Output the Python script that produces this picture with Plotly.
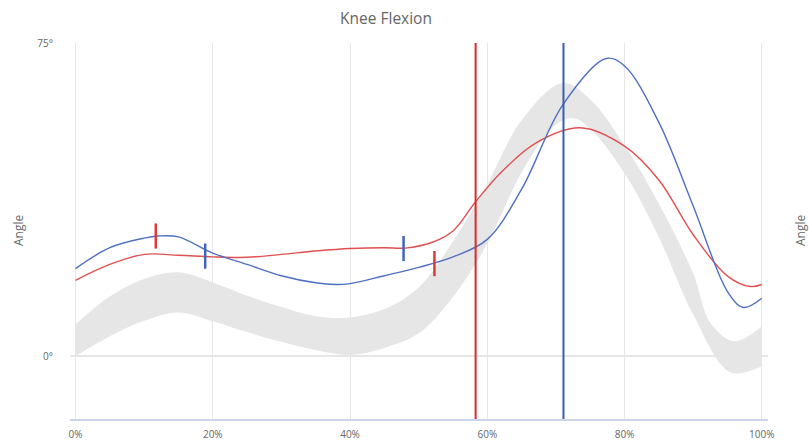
import plotly.graph_objects as go

# ---- data (percent of gait cycle vs knee angle, degrees) ----
blue_x = [0, 5, 10, 12, 15, 20, 25, 30, 35, 38, 40, 45, 50, 55, 60, 65, 71, 77.3, 80, 85, 90, 95, 97.3, 100]
blue_y = [21, 26, 28.3, 28.8, 28.6, 24.7, 22, 19.3, 17.6, 17.2, 17.4, 19.3, 21.3, 23.8, 28, 40, 60.2, 71.3, 69.5, 56, 36, 15.5, 11.7, 13.9]

red_x = [0, 5, 10, 15, 20, 25, 30, 35, 40, 45, 48, 52, 55, 58.3, 62, 67, 73.5, 80, 85, 90, 95, 98.3, 100]
red_y = [18.2, 22, 24.4, 24.2, 23.8, 23.7, 24.4, 25.2, 25.8, 26, 25.9, 27.3, 30, 37, 44, 51, 54.7, 50.3, 42.2, 29.1, 19.2, 16.7, 17.2]

band_upper_x = [0, 5, 10, 15, 20, 25, 30, 35, 40, 45, 50, 55, 60, 65, 71, 75, 80, 85, 90, 92.5, 96, 100]
band_upper_y = [7.6, 14.3, 18.5, 20.1, 17.7, 14.5, 11.8, 9.6, 9.3, 11.3, 16.5, 27.5, 41.2, 56.5, 65.4, 61.5, 50.5, 36.5, 19.8, 8, 3.6, 7.2]

band_lower_x = [0, 5, 10, 15, 20, 25, 30, 35, 40, 45, 50, 55, 60, 65, 70, 72.5, 75, 80, 85, 90, 95.4, 100]
band_lower_y = [0, 4.8, 8.5, 10.5, 8.4, 5.8, 3.5, 1.5, 0.3, 2, 5.5, 14.2, 27, 44, 55.5, 57, 54.5, 43.8, 28.5, 10, -3.8, -2.4]

# event markers: red events on blue curve, blue events on red curve
red_event_x = [11.7, 52.3]
red_event_y = [28.8, 22.2]
blue_event_x = [18.9, 47.8]
blue_event_y = [24.0, 25.8]

# toe-off vertical lines
red_toeoff = 58.3
blue_toeoff = 71.1

x_ticks = [0, 20, 40, 60, 80, 100]
x_tick_text = ["0%", "20%", "40%", "60%", "80%", "100%"]
y_ticks = [0, 75]
y_tick_text = ["0°", "75°"]

RED = "#dc3a3a"
BLUE = "#4466b8"
GREY = "#666666"

fig = go.Figure()

fig.add_trace(go.Scatter(x=band_lower_x, y=band_lower_y, mode="lines",
                         line=dict(width=0, shape="spline", smoothing=1.0, color="#e6e6e6"),
                         hoverinfo="skip", showlegend=False))
fig.add_trace(go.Scatter(x=band_upper_x, y=band_upper_y, mode="lines", fill="tonexty",
                         fillcolor="#e6e6e6",
                         line=dict(width=0, shape="spline", smoothing=1.0, color="#e6e6e6"),
                         hoverinfo="skip", showlegend=False))

fig.add_trace(go.Scatter(x=red_x, y=red_y, mode="lines",
                         line=dict(color="#e05050", width=1.4, shape="spline", smoothing=1.0),
                         showlegend=False))
fig.add_trace(go.Scatter(x=blue_x, y=blue_y, mode="lines",
                         line=dict(color="#4f70c0", width=1.4, shape="spline", smoothing=1.0),
                         showlegend=False))

fig.add_trace(go.Scatter(x=red_event_x, y=red_event_y, mode="markers",
                         marker=dict(symbol="line-ns", size=18, line=dict(width=2.5, color=RED)),
                         showlegend=False))
fig.add_trace(go.Scatter(x=blue_event_x, y=blue_event_y, mode="markers",
                         marker=dict(symbol="line-ns", size=18, line=dict(width=2.5, color=BLUE)),
                         showlegend=False))

fig.add_shape(type="line", xref="x", yref="paper", x0=red_toeoff, x1=red_toeoff, y0=0, y1=1,
              line=dict(color="#d92b2b", width=2))
fig.add_shape(type="line", xref="x", yref="paper", x0=blue_toeoff, x1=blue_toeoff, y0=0, y1=1,
              line=dict(color="#3a5dad", width=2))

fig.add_annotation(text="Angle", xref="paper", yref="paper", x=0, y=0.5, xshift=-52,
                   showarrow=False, textangle=-90, font=dict(size=12, color=GREY),
                   xanchor="center", yanchor="middle")
fig.add_annotation(text="Angle", xref="paper", yref="paper", x=1, y=0.5, xshift=32,
                   showarrow=False, textangle=-90, font=dict(size=12, color=GREY),
                   xanchor="center", yanchor="middle")

fig.update_layout(
    width=809, height=443,
    margin=dict(l=70, r=41, t=43, b=24, autoexpand=False),
    paper_bgcolor="white", plot_bgcolor="white",
    font=dict(family="Open Sans, Noto Sans, sans-serif", color=GREY),
    title=dict(text="Knee Flexion", x=386 / 809, xanchor="center", y=1 - 19 / 443, yanchor="middle",
               font=dict(size=15.5, color=GREY)),
    xaxis=dict(range=[-0.8, 100.9], tickvals=x_ticks, ticktext=x_tick_text,
               showgrid=True, gridcolor="#e6e6e6", gridwidth=1,
               showline=True, linecolor="#ccd6eb", linewidth=2,
               zeroline=False, ticks="outside", ticklen=5, tickcolor="rgba(0,0,0,0)",
               automargin=False,
               tickfont=dict(size=10, color=GREY), fixedrange=True),
    yaxis=dict(range=[-15, 75], tickvals=y_ticks, ticktext=y_tick_text,
               showgrid=True, gridcolor="#e6e6e6", gridwidth=2,
               zeroline=False, showline=False, automargin=False,
               ticks="outside", ticklen=14, tickcolor="rgba(0,0,0,0)",
               tickfont=dict(size=10, color=GREY), fixedrange=True),
)

fig.write_html("out.html", config={"displayModeBar": False},
               post_script="document.body.style.margin='0';document.body.style.overflow='hidden';")
